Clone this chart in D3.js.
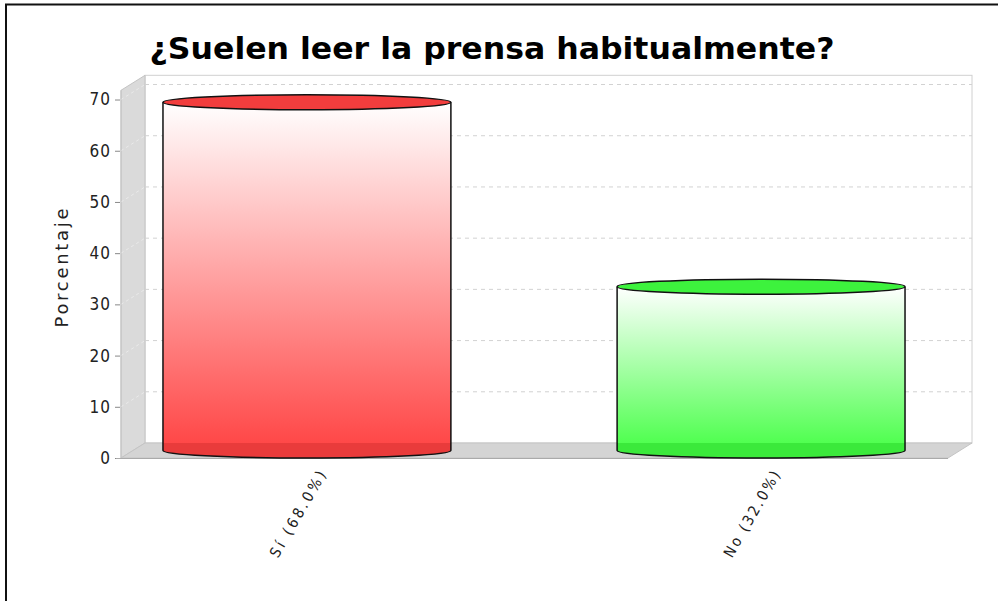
<!DOCTYPE html>
<html>
<head>
<meta charset="utf-8">
<script src="https://cdn.jsdelivr.net/npm/d3@7/dist/d3.min.js"></script>
<style>
  html, body { margin: 0; padding: 0; background: #fff; }
  svg { display: block; }
</style>
</head>
<body>
<svg id="chart" width="998" height="601"></svg>
<script>
// ---- data ----
const categories = ["Sí (68.0%)", "No (32.0%)"];
const values = [68.0, 32.0];
const barColors = ["#ff4040", "#40ff40"];
const yTicks = [0, 10, 20, 30, 40, 50, 60, 70];
const titleText = "¿Suelen leer la prensa habitualmente?";
const yLabel = "Porcentaje";

// ---- layout ----
const W = 998, H = 601;
const svg = d3.select("#chart");
const fL = 121, fR = 948, fB = 458;   // front plot box
const dx = 24, dy = 15;               // 3D depth offset
const yMax = 71.8;

const y = d3.scaleLinear().domain([0, yMax]).range([fB, fB - yMax * 5.121]);
const yBack = v => y(v) - dy;
const fT = y(yMax);

const x = d3.scaleBand().domain(categories).range([133, 935])
  .paddingInner(0.366).paddingOuter(0.066);

svg.append("rect").attr("width", W).attr("height", H).attr("fill", "#fff");
// frame
svg.append("path").attr("d", `M6,${H} L6,4.5 L${W},4.5`)
  .attr("fill", "none").attr("stroke", "#111").attr("stroke-width", 2);

// title
svg.append("text").attr("x", 492).attr("y", 59)
  .attr("text-anchor", "middle")
  .attr("font-family", "'DejaVu Sans Condensed', 'DejaVu Sans', sans-serif").attr("font-weight", "bold")
  .attr("font-size", 31).attr("fill", "#000")
  .attr("textLength", 685).attr("lengthAdjust", "spacingAndGlyphs")
  .text(titleText);

// walls
const bL = fL + dx, bR = fR + dx, bB = fB - dy, bT = fT - dy;
svg.append("rect").attr("x", bL).attr("y", bT).attr("width", bR - bL).attr("height", bB - bT)
  .attr("fill", "#fff").attr("stroke", "#d0d0d0").attr("stroke-width", 1);
svg.append("path").attr("d", `M${fL},${fB} L${bL},${bB} L${bL},${bT} L${fL},${fT} Z`)
  .attr("fill", "#dadada").attr("stroke", "#c4c4c4").attr("stroke-width", 1);
svg.append("path").attr("d", `M${fL},${fB} L${bL},${bB} L${bR},${bB} L${fR},${fB} Z`)
  .attr("fill", "#d4d4d4").attr("stroke", "#c4c4c4").attr("stroke-width", 1);

// gridlines
const grid = yTicks.filter(v => v > 0);
svg.append("g").selectAll("line").data(grid).join("line")
  .attr("x1", bL).attr("x2", bR).attr("y1", d => yBack(d)).attr("y2", d => yBack(d))
  .attr("stroke", "#d2d2d2").attr("stroke-width", 1).attr("stroke-dasharray", "4,4");
svg.append("g").selectAll("line").data(grid).join("line")
  .attr("x1", fL).attr("x2", bL).attr("y1", d => y(d)).attr("y2", d => yBack(d))
  .attr("stroke", "#eaeaea").attr("stroke-width", 1).attr("stroke-dasharray", "3,3");

// y axis
const yAxis = d3.axisLeft(y).tickValues(yTicks).tickSize(5).tickPadding(4).tickFormat(d3.format("d"));
const ga = svg.append("g").attr("transform", `translate(${fL - 1},0)`).call(yAxis);
ga.select(".domain").remove();
ga.selectAll(".tick line").attr("stroke", "#888");
ga.selectAll(".tick text").attr("font-family", "'DejaVu Sans Condensed', 'DejaVu Sans', sans-serif")
  .attr("font-size", 17).attr("letter-spacing", 1).attr("fill", "#222");
svg.append("line").attr("x1", fL).attr("x2", fL).attr("y1", fB).attr("y2", fT)
  .attr("stroke", "#c4c4c4");
svg.append("line").attr("x1", fL - 5).attr("x2", fR).attr("y1", fB + 0.5).attr("y2", fB + 0.5)
  .attr("stroke", "#aaa");

svg.append("text").attr("transform", `translate(68,268) rotate(-90)`)
  .attr("text-anchor", "middle").attr("font-family", "'DejaVu Sans', sans-serif").attr("font-size", 18)
  .attr("textLength", 119).attr("lengthAdjust", "spacing")
  .attr("fill", "#222").text(yLabel);

// gradients
const defs = svg.append("defs");
categories.forEach((c, i) => {
  const g = defs.append("linearGradient").attr("id", "grad" + i)
    .attr("x1", 0).attr("y1", 0).attr("x2", 0).attr("y2", 1);
  g.append("stop").attr("offset", "0%").attr("stop-color", "#ffffff");
  g.append("stop").attr("offset", "100%").attr("stop-color", barColors[i]);
});

// cylinders
const ry = dy / 2;
const bars = svg.append("g").selectAll("g").data(categories).join("g");
bars.each(function (c, i) {
  const g = d3.select(this);
  const x0 = x(c), x1 = x(c) + x.bandwidth(), rx = x.bandwidth() / 2;
  const yt = y(values[i]) - ry;
  const yb = fB - ry;
  g.append("path")
    .attr("d", `M${x0},${yt} L${x0},${yb} A${rx},${ry} 0 0 0 ${x1},${yb} L${x1},${yt} Z`)
    .attr("fill", `url(#grad${i})`);
  g.append("path")
    .attr("d", `M${x0},${bB} L${x0},${yb} A${rx},${ry} 0 0 0 ${x1},${yb} L${x1},${bB} Z`)
    .attr("fill", d3.color(barColors[i]).darker(0.25));
  g.append("path")
    .attr("d", `M${x0},${yt} L${x0},${yb} A${rx},${ry} 0 0 0 ${x1},${yb} L${x1},${yt}`)
    .attr("fill", "none").attr("stroke", "#111").attr("stroke-width", 1.5);
  g.append("ellipse").attr("cx", x0 + rx).attr("cy", yt).attr("rx", rx).attr("ry", ry)
    .attr("fill", d3.color(barColors[i]).darker(0.15)).attr("stroke", "#111").attr("stroke-width", 1.5);
});

// x labels
svg.append("g").selectAll("text").data(categories).join("text")
  .attr("transform", d => `translate(${x(d) + x.bandwidth() / 2 + 15},472) rotate(-60)`)
  .attr("text-anchor", "end").attr("dy", "0.35em")
  .attr("font-family", "'DejaVu Sans Condensed', 'DejaVu Sans', sans-serif").attr("font-size", 15)
  .attr("textLength", 97).attr("lengthAdjust", "spacing")
  .attr("fill", "#222").text(d => d);
</script>
</body>
</html>
